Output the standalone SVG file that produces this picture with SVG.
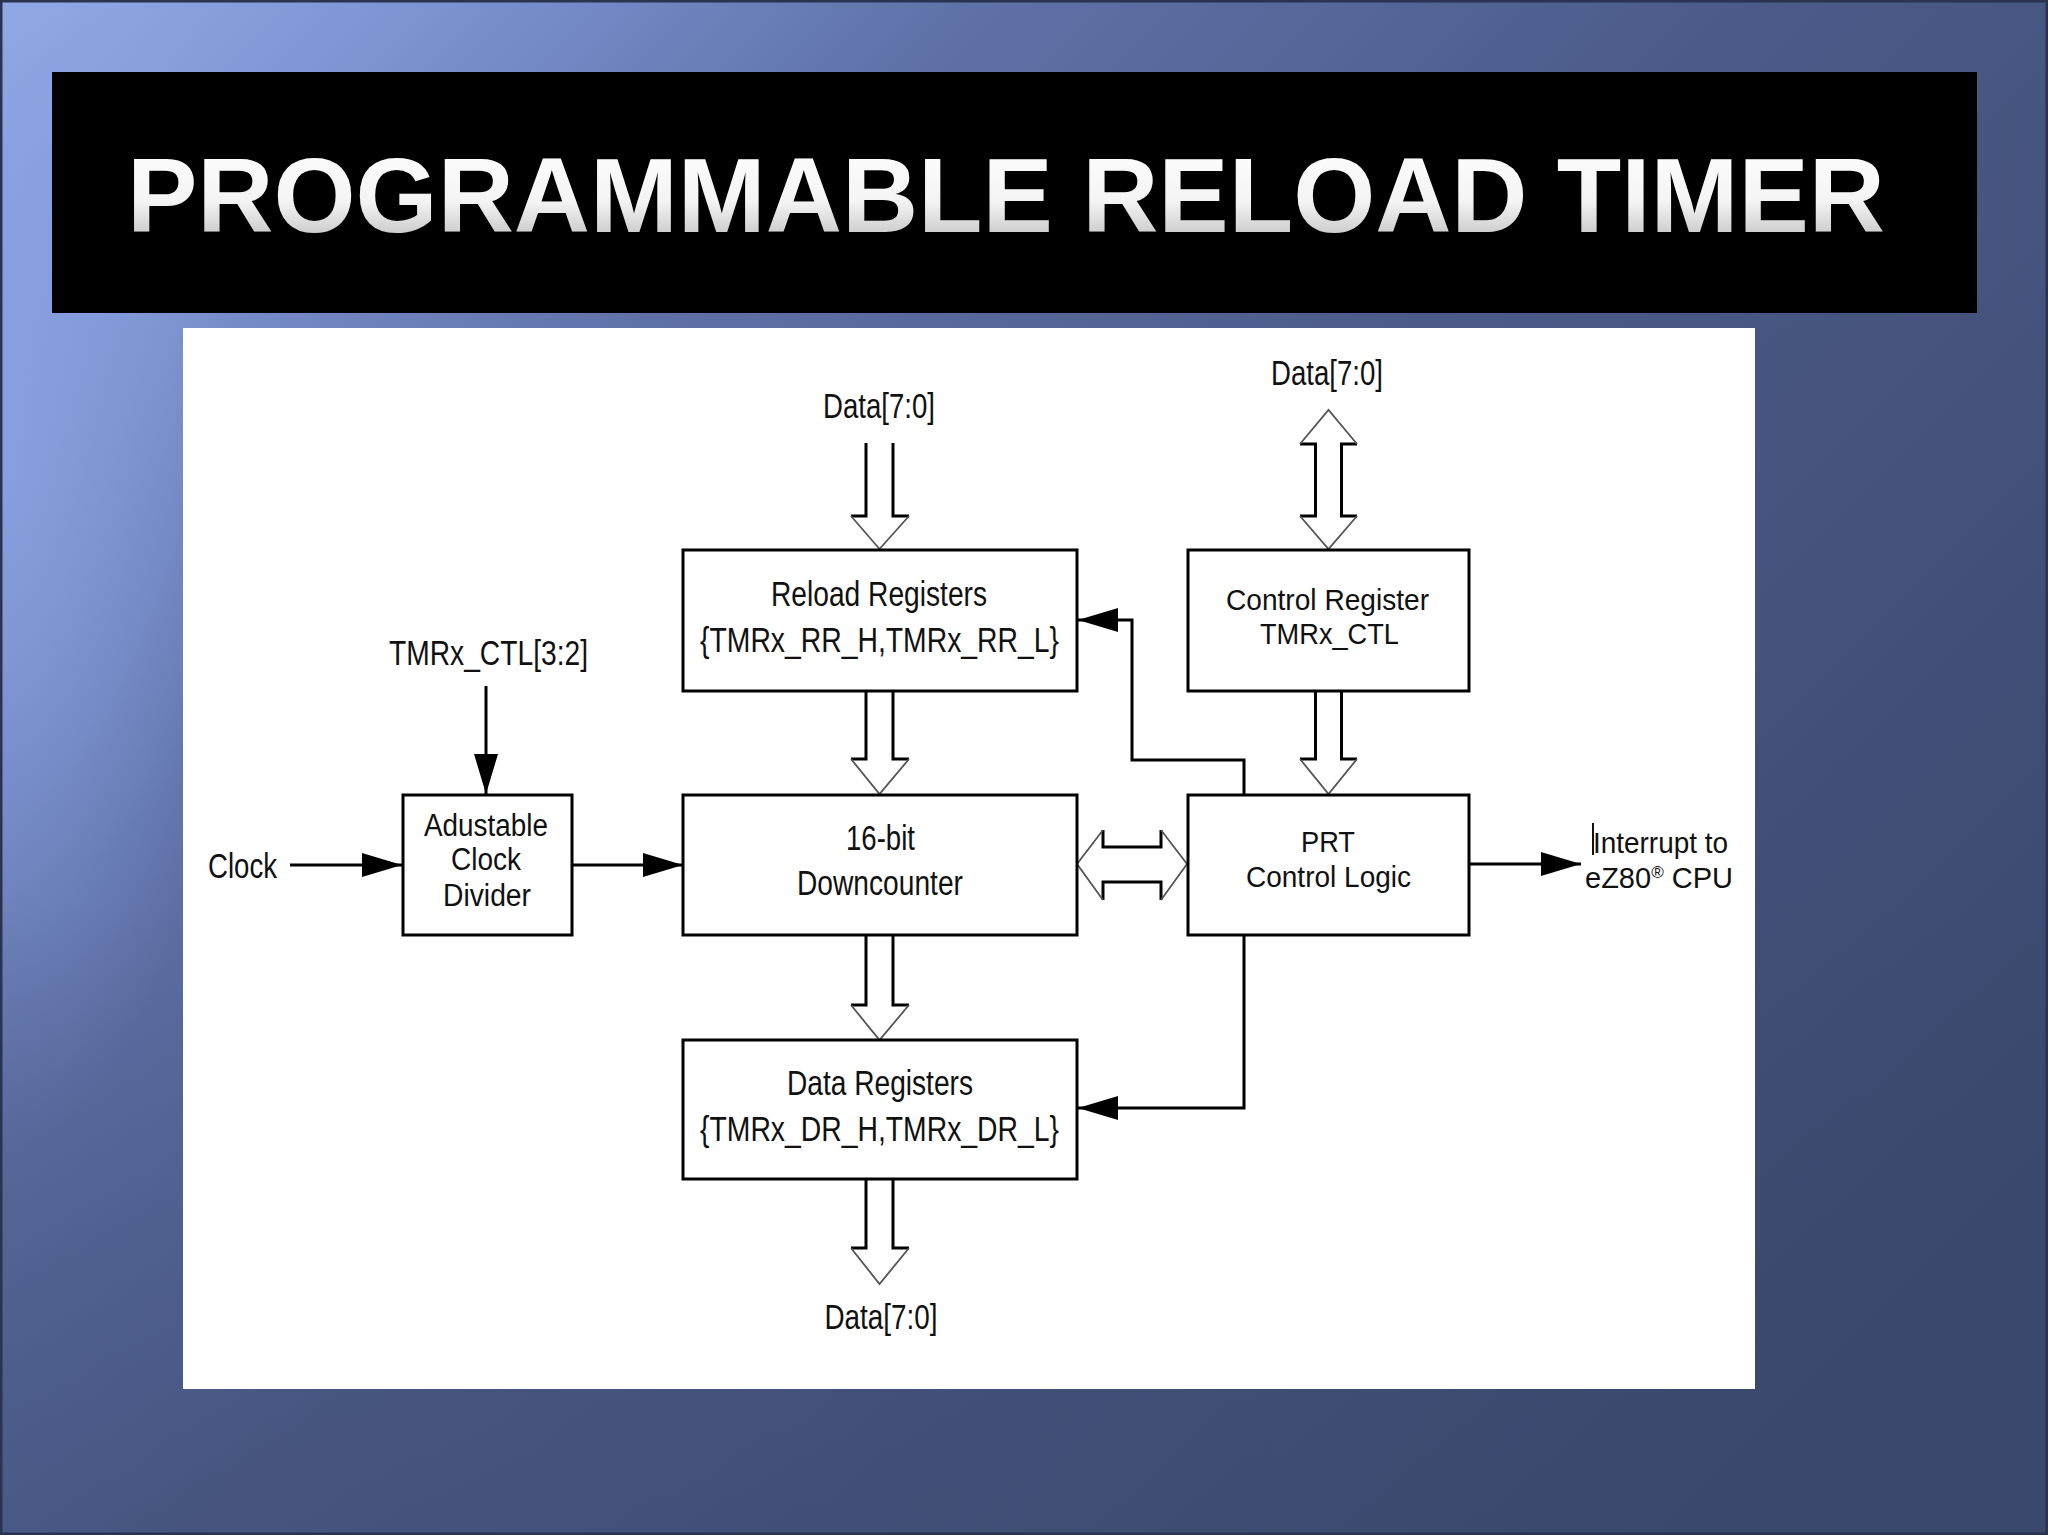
<svg xmlns="http://www.w3.org/2000/svg" width="2048" height="1535" viewBox="0 0 2048 1535">
  <defs>
    <linearGradient id="bg" x1="0" y1="0" x2="1" y2="0.75">
      <stop offset="0" stop-color="#93aae8"/>
      <stop offset="0.12" stop-color="#7f96d6"/>
      <stop offset="0.3" stop-color="#5f72a8"/>
      <stop offset="0.55" stop-color="#4b5a88"/>
      <stop offset="1" stop-color="#3b486d"/>
    </linearGradient>
    <radialGradient id="bgleft" gradientUnits="userSpaceOnUse" cx="0" cy="450" r="700" gradientTransform="translate(0,450) scale(0.35,1) translate(0,-450)">
      <stop offset="0" stop-color="#8aa2e2" stop-opacity="0.85"/>
      <stop offset="1" stop-color="#8aa2e2" stop-opacity="0"/>
    </radialGradient>
    <linearGradient id="bgbottom" x1="0" y1="0" x2="0" y2="1">
      <stop offset="0" stop-color="#3b486d" stop-opacity="0"/>
      <stop offset="1" stop-color="#3b486d" stop-opacity="0.35"/>
    </linearGradient>
    <linearGradient id="titleFill" x1="0" y1="0" x2="0" y2="1">
      <stop offset="0" stop-color="#ffffff"/>
      <stop offset="0.55" stop-color="#f4f4f4"/>
      <stop offset="1" stop-color="#b4b4b4"/>
    </linearGradient>
    <marker id="ah" viewBox="0 0 40 24" markerWidth="40" markerHeight="24" refX="40" refY="12" orient="auto" markerUnits="userSpaceOnUse">
      <path d="M0,0 L40,12 L0,24 Z" fill="#000"/>
    </marker>
    <style>
      .box { fill: #fff; stroke: #000; stroke-width: 3; }
      .lbl { font-family: "Liberation Sans", Arial, sans-serif; font-size: 35px; fill: #111; text-anchor: middle; }
      .tight { font-size: 31px; }
      .tighter { font-size: 29px; }
      .lbll { font-family: "Liberation Sans", Arial, sans-serif; font-size: 29px; fill: #111; text-anchor: start; }
      .wire { fill: none; stroke: #000; stroke-width: 3; }
      .bus { fill: none; stroke: #000; stroke-width: 3; }
      .head { fill: none; stroke: #555; stroke-width: 1.8; }
    </style>
  </defs>

  <!-- background -->
  <rect x="0" y="0" width="2048" height="1535" fill="url(#bg)"/>
  <rect x="0" y="0" width="400" height="1535" fill="url(#bgleft)"/>
  <rect x="0" y="900" width="2048" height="635" fill="url(#bgbottom)"/>
  <rect x="1" y="1" width="2046" height="1533" fill="none" stroke="#2a3350" stroke-width="3"/>

  <!-- title bar -->
  <g id="title">
    <rect x="52" y="72" width="1925" height="241" fill="#000"/>
    <text x="127" y="232" font-family="'Liberation Sans', Arial, sans-serif" font-weight="bold" font-size="105" fill="url(#titleFill)" textLength="1758" lengthAdjust="spacingAndGlyphs">PROGRAMMABLE RELOAD TIMER</text>
  </g>

  <!-- white panel -->
  <rect x="183" y="328" width="1572" height="1061" fill="#fff"/>

  <!-- connectors -->
  <g id="connectors">
    <!-- hollow bus arrows: Data -> Reload -->
    <path class="bus" d="M866,443 V516 H851 M893,443 V516 H909"/>
    <path class="head" d="M851,516 L879.5,549 L909,516"/>
    <!-- Reload -> Downcounter -->
    <path class="bus" d="M866,691 V759 H851 M893,691 V759 H909"/>
    <path class="head" d="M851,759 L879.5,794 L909,759"/>
    <!-- Downcounter -> Data Registers -->
    <path class="bus" d="M866,935 V1005 H851 M893,935 V1005 H909"/>
    <path class="head" d="M851,1005 L879.5,1040 L909,1005"/>
    <!-- Data Registers -> Data out -->
    <path class="bus" d="M866,1179 V1248 H851 M893,1179 V1248 H909"/>
    <path class="head" d="M851,1248 L879.5,1284 L909,1248"/>

    <!-- Data <-> Control Register (bidirectional) -->
    <path class="bus" d="M1300,444 H1315.5 V516 H1300 M1357,444 H1341.5 V516 H1357"/>
    <path class="head" d="M1300,444 L1328.5,410 L1357,444 M1300,516 L1328.5,549 L1357,516"/>
    <!-- Control Register -> PRT -->
    <path class="bus" d="M1315.5,691 V759 H1300 M1341.5,691 V759 H1357"/>
    <path class="head" d="M1300,759 L1328.5,794 L1357,759"/>

    <!-- Downcounter <-> PRT (bidirectional) -->
    <path class="bus" d="M1103,830 V847 H1161 V830 M1103,900 V882 H1161 V900"/>
    <path class="head" d="M1103,830 L1077,864 L1103,900 M1161,830 L1187,864 L1161,900"/>

    <!-- single-line arrows -->
    <path class="wire" d="M290,865 H402" marker-end="url(#ah)"/>
    <path class="wire" d="M571,865 H683" marker-end="url(#ah)"/>
    <path class="wire" d="M486,686 V794" marker-end="url(#ah)"/>
    <path class="wire" d="M1469,864 H1581" marker-end="url(#ah)"/>
    <path class="wire" d="M1244,795 V760 H1132 V620 H1078" marker-end="url(#ah)"/>
    <path class="wire" d="M1244,935 V1108 H1078" marker-end="url(#ah)"/>
  </g>

  <!-- nodes -->
  <g id="reload">
    <rect class="box" x="683" y="550" width="394" height="141"/>
    <text class="lbl" x="879" y="606" textLength="216" lengthAdjust="spacingAndGlyphs">Reload Registers</text>
    <text class="lbl" x="879.5" y="652" textLength="359" lengthAdjust="spacingAndGlyphs">{TMRx_RR_H,TMRx_RR_L}</text>
  </g>
  <g id="control-register">
    <rect class="box" x="1188" y="550" width="281" height="141"/>
    <text class="lbl tighter" x="1327.5" y="610" textLength="203" lengthAdjust="spacingAndGlyphs">Control Register</text>
    <text class="lbl tighter" x="1329.5" y="644" textLength="139" lengthAdjust="spacingAndGlyphs">TMRx_CTL</text>
  </g>
  <g id="clock-divider">
    <rect class="box" x="403" y="795" width="169" height="140"/>
    <text class="lbl tight" x="486" y="836" textLength="124" lengthAdjust="spacingAndGlyphs">Adustable</text>
    <text class="lbl tight" x="486" y="870" textLength="70" lengthAdjust="spacingAndGlyphs">Clock</text>
    <text class="lbl tight" x="487" y="906" textLength="88" lengthAdjust="spacingAndGlyphs">Divider</text>
  </g>
  <g id="downcounter">
    <rect class="box" x="683" y="795" width="394" height="140"/>
    <text class="lbl" x="880.5" y="850" textLength="69" lengthAdjust="spacingAndGlyphs">16-bit</text>
    <text class="lbl" x="880" y="895" textLength="166" lengthAdjust="spacingAndGlyphs">Downcounter</text>
  </g>
  <g id="prt-control-logic">
    <rect class="box" x="1188" y="795" width="281" height="140"/>
    <text class="lbl tighter" x="1328" y="852" textLength="54" lengthAdjust="spacingAndGlyphs">PRT</text>
    <text class="lbl tighter" x="1328.5" y="887" textLength="165" lengthAdjust="spacingAndGlyphs">Control Logic</text>
  </g>
  <g id="data-registers">
    <rect class="box" x="683" y="1040" width="394" height="139"/>
    <text class="lbl" x="880" y="1095" textLength="186" lengthAdjust="spacingAndGlyphs">Data Registers</text>
    <text class="lbl" x="879.5" y="1141" textLength="359" lengthAdjust="spacingAndGlyphs">{TMRx_DR_H,TMRx_DR_L}</text>
  </g>

  <!-- external labels -->
  <g id="labels">
    <text class="lbl" x="879" y="418" textLength="112" lengthAdjust="spacingAndGlyphs">Data[7:0]</text>
    <text class="lbl" x="1327" y="385" textLength="112" lengthAdjust="spacingAndGlyphs">Data[7:0]</text>
    <text class="lbl" x="881" y="1329" textLength="113" lengthAdjust="spacingAndGlyphs">Data[7:0]</text>
    <text class="lbl" x="242.5" y="878" textLength="69" lengthAdjust="spacingAndGlyphs">Clock</text>
    <text class="lbl" x="488.5" y="665" textLength="199" lengthAdjust="spacingAndGlyphs">TMRx_CTL[3:2]</text>
    <text class="lbll" x="1593" y="853" textLength="135" lengthAdjust="spacingAndGlyphs">Interrupt to</text>
    <text class="lbll" x="1585" y="888" textLength="148" lengthAdjust="spacingAndGlyphs">eZ80<tspan font-size="17" dy="-10">®</tspan><tspan dy="10"> CPU</tspan></text>
    <line x1="1593" y1="823" x2="1593" y2="855" stroke="#111" stroke-width="2"/>
  </g>
</svg>
